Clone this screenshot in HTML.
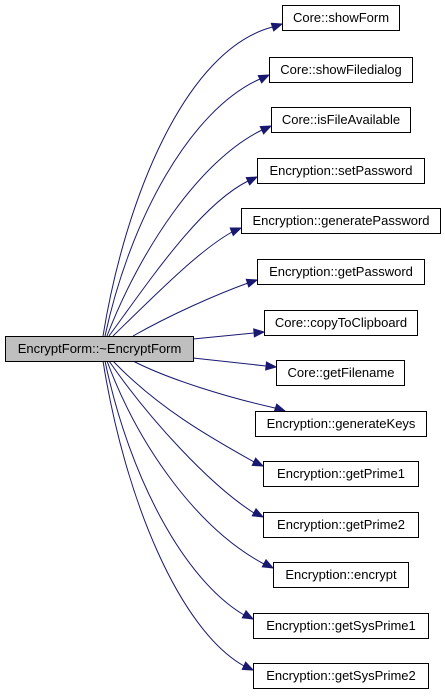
<!DOCTYPE html>
<html><head><meta charset="utf-8"><style>
html,body{margin:0;padding:0;background:#fff;}
svg{display:block;}
text{font-family:"Liberation Sans",Arial,sans-serif;font-size:13px;fill:#000;}
</style></head><body>
<svg width="445" height="696" viewBox="0 0 445 696">
<g fill="none" stroke="#191970" stroke-width="1">
<path d="M103,336 C125,200 185,50 272.5,27"/>
<path d="M105,336 C130,220 190,110 260,79"/>
<path d="M107,336 C140,250 200,160 262,130"/>
<path d="M109,336 C150,280 200,205 248,181"/>
<path d="M113,336 C160,290 200,250 232,232"/>
<path d="M133,336 C170,315 215,295 248,283"/>
<path d="M193,339 L254,333"/>
<path d="M193,358 L266,366"/>
<path d="M133,361 C170,380 230,398 275,408"/>
<path d="M113,361 C160,410 215,440 254,462"/>
<path d="M109,361 C150,420 210,485 254,513"/>
<path d="M107,361 C140,450 200,530 264,564"/>
<path d="M105,361 C130,480 185,580 244,615"/>
<path d="M103,361 C125,500 180,630 244,666"/>
</g>
<g fill="#191970" stroke="#191970">
<polygon points="0,0 -10,-4 -10,4" transform="translate(282,24) rotate(-18)"/>
<polygon points="0,0 -10,-4 -10,4" transform="translate(269,75) rotate(-25)"/>
<polygon points="0,0 -10,-4 -10,4" transform="translate(271,126) rotate(-25)"/>
<polygon points="0,0 -10,-4 -10,4" transform="translate(257,177) rotate(-25)"/>
<polygon points="0,0 -10,-4 -10,4" transform="translate(241,228) rotate(-22)"/>
<polygon points="0,0 -10,-4 -10,4" transform="translate(257,280) rotate(-18)"/>
<polygon points="0,0 -10,-4 -10,4" transform="translate(264,332) rotate(-5)"/>
<polygon points="0,0 -10,-4 -10,4" transform="translate(276,367) rotate(6)"/>
<polygon points="0,0 -10,-4 -10,4" transform="translate(285,411) rotate(18)"/>
<polygon points="0,0 -10,-4 -10,4" transform="translate(263,466) rotate(25)"/>
<polygon points="0,0 -10,-4 -10,4" transform="translate(263,517) rotate(28)"/>
<polygon points="0,0 -10,-4 -10,4" transform="translate(273,568) rotate(28)"/>
<polygon points="0,0 -10,-4 -10,4" transform="translate(253,619) rotate(28)"/>
<polygon points="0,0 -10,-4 -10,4" transform="translate(253,670) rotate(25)"/>
</g>
<g stroke="#000" stroke-width="1">
<rect x="5.5" y="336.5" width="188" height="25" fill="#bfbfbf"/>
<rect x="282.5" y="5.5" width="117" height="25" fill="#fff"/>
<rect x="269.5" y="57.5" width="143" height="25" fill="#fff"/>
<rect x="271.5" y="107.5" width="139" height="25" fill="#fff"/>
<rect x="257.5" y="158.5" width="167" height="25" fill="#fff"/>
<rect x="241.5" y="208.5" width="199" height="25" fill="#fff"/>
<rect x="257.5" y="259.5" width="167" height="25" fill="#fff"/>
<rect x="264.5" y="310.5" width="153" height="25" fill="#fff"/>
<rect x="276.5" y="360.5" width="128" height="25" fill="#fff"/>
<rect x="255.5" y="411.5" width="171" height="25" fill="#fff"/>
<rect x="263.5" y="461.5" width="155" height="25" fill="#fff"/>
<rect x="263.5" y="512.5" width="155" height="25" fill="#fff"/>
<rect x="273.5" y="562.5" width="135" height="25" fill="#fff"/>
<rect x="253.5" y="613.5" width="175" height="25" fill="#fff"/>
<rect x="253.5" y="663.5" width="175" height="25" fill="#fff"/>
</g>
<g text-anchor="middle">
<text x="99.5" y="353">EncryptForm::~EncryptForm</text>
<text x="341" y="22">Core::showForm</text>
<text x="341" y="74">Core::showFiledialog</text>
<text x="341" y="124">Core::isFileAvailable</text>
<text x="341" y="175">Encryption::setPassword</text>
<text x="341" y="225">Encryption::generatePassword</text>
<text x="341" y="276">Encryption::getPassword</text>
<text x="341" y="327">Core::copyToClipboard</text>
<text x="341" y="377">Core::getFilename</text>
<text x="341" y="428">Encryption::generateKeys</text>
<text x="341" y="478">Encryption::getPrime1</text>
<text x="341" y="529">Encryption::getPrime2</text>
<text x="341" y="579">Encryption::encrypt</text>
<text x="341" y="630">Encryption::getSysPrime1</text>
<text x="341" y="680">Encryption::getSysPrime2</text>
</g>
</svg>
</body></html>
